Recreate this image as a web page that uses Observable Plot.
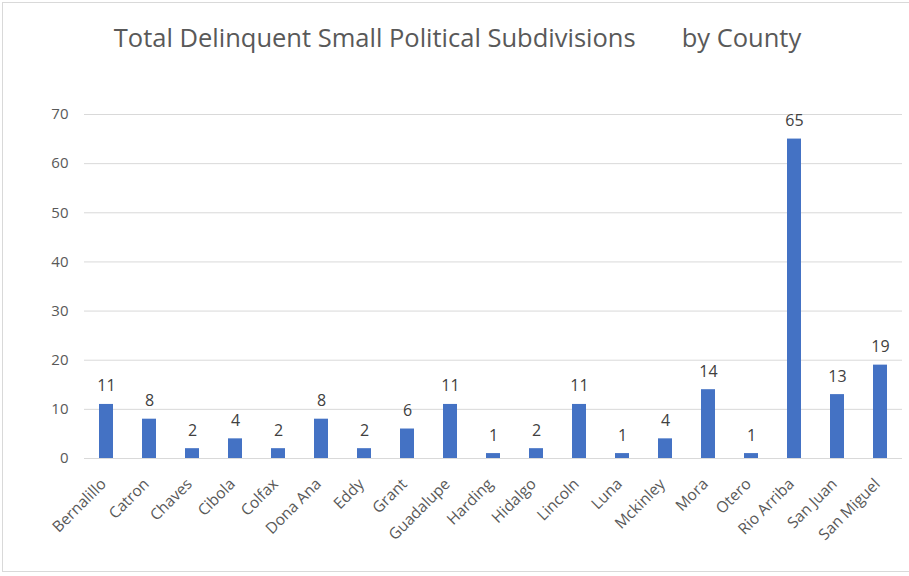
<!DOCTYPE html>
<html>
<head>
<meta charset="utf-8">
<script src="https://cdn.jsdelivr.net/npm/d3@7"></script>
<script src="https://cdn.jsdelivr.net/npm/@observablehq/plot@0.6"></script>
<style>
  html, body { margin: 0; padding: 0; background: #fff; }
  #wrap { position: relative; width: 909px; height: 576px; overflow: hidden; font-family: "Open Sans", sans-serif; }
  #frame { position: absolute; left: 2px; top: 2px; width: 920px; height: 570px; border: 1.5px solid #d9d9d9; box-sizing: border-box; }
  #title { position: absolute; top: 20px; left: 0; width: 915px; text-align: center; font-size: 25.5px; color: #595959; white-space: pre; }
  #title span { margin-left: 46px; }
  #chart { position: absolute; left: 0; top: 0; }
</style>
</head>
<body>
<div id="wrap">
  <div id="frame"></div>
  <div id="title">Total Delinquent Small Political Subdivisions<span>by County</span></div>
  <div id="chart"></div>
</div>
<script>
const counties = ["Bernalillo","Catron","Chaves","Cibola","Colfax","Dona Ana","Eddy","Grant","Guadalupe","Harding","Hidalgo","Lincoln","Luna","Mckinley","Mora","Otero","Rio Arriba","San Juan","San Miguel"];
const totals = [11,8,2,4,2,8,2,6,11,1,2,11,1,4,14,1,65,13,19];
const yTicks = [0,10,20,30,40,50,60,70];

const data = counties.map((c, i) => ({county: c, total: totals[i]}));

const chart = Plot.plot({
  width: 909,
  height: 576,
  marginTop: 114,
  marginBottom: 118,
  marginLeft: 84,
  marginRight: 7,
  style: {fontFamily: "'Open Sans', sans-serif", fontSize: "15px", color: "#595959", background: "transparent"},
  x: {domain: counties, paddingInner: 0.67, paddingOuter: 0.335, label: null},
  y: {domain: [0, 70], ticks: yTicks, label: null},
  marks: [
    Plot.gridY(yTicks, {stroke: "#d9d9d9", strokeOpacity: 1, strokeWidth: 1}),
    Plot.barY(data, {x: "county", y: "total", fill: "#4472c4"}),
    Plot.text(data, {x: "county", y: "total", text: d => String(d.total), dy: -13, lineAnchor: "bottom", fill: "#404040", fontSize: 16}),
    Plot.axisY({ticks: yTicks, tickSize: 0, tickPadding: 16, fontSize: 15, fill: "#595959", label: null}),
    Plot.axisX({tickSize: 0, tickPadding: 23, dx: -3, tickRotate: -45, fontSize: 15.5, fill: "#595959", label: null})
  ]
});
document.getElementById("chart").appendChild(chart);
</script>
</body>
</html>
